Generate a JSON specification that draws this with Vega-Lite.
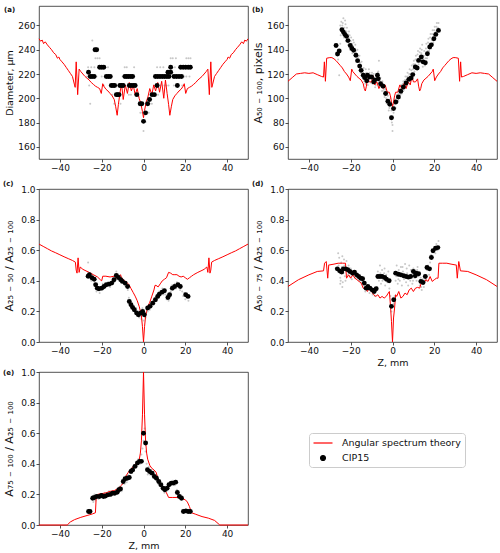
{
  "$schema": "https://vega.github.io/schema/vega-lite/v6.json",
  "background": "white",
  "padding": {"left": 2, "top": 5, "right": 3, "bottom": 2},
  "bounds": "flush",
  "columns": 2,
  "spacing": {"row": 30, "column": 40},
  "config": {
    "font": "DejaVu Sans",
    "view": {"stroke": "#262626", "strokeWidth": 0.8},
    "axis": {"grid": false, "domain": false, "tickColor": "#262626", "tickSize": 3, "tickWidth": 0.8,
      "labelFont": "DejaVu Sans", "labelFontSize": 9, "labelColor": "#111111", "labelPadding": 1,
      "titleFont": "DejaVu Sans", "titleFontSize": 9.5, "titleFontWeight": "normal", "titleColor": "#111111"},
    "axisY": {"minExtent": 22, "maxExtent": 22, "titlePadding": 3},
    "axisX": {"titlePadding": 2},
    "title": {"fontSize": 7, "fontWeight": "bold", "font": "DejaVu Sans", "anchor": "start", "frame": "bounds", "color": "#111111"}
  },
  "datasets": {
    "a_line": [
      {"z":-50,"v":249},{"z":-49.2,"v":247},{"z":-48.5,"v":248},{"z":-47.8,"v":245},{"z":-47,"v":246.5},{"z":-46,"v":244},{"z":-45,"v":242},{"z":-44,"v":240},{"z":-43,"v":237.5},{"z":-42,"v":236},{"z":-41.2,"v":233},{"z":-40.5,"v":234},{"z":-40,"v":232},{"z":-39,"v":230},{"z":-38,"v":228},{"z":-37,"v":225.5},{"z":-36,"v":223},{"z":-35,"v":220.5},{"z":-34,"v":218},{"z":-33,"v":211},{"z":-32.7,"v":209},{"z":-32.2,"v":230},{"z":-31.5,"v":203},{"z":-30.8,"v":224},{"z":-30,"v":222},{"z":-29,"v":220},{"z":-28,"v":218},{"z":-27,"v":216.5},{"z":-26,"v":215},{"z":-25,"v":213},{"z":-24,"v":211.5},{"z":-23,"v":210},{"z":-22,"v":209},{"z":-21,"v":208},{"z":-20.2,"v":204},{"z":-19.5,"v":212},{"z":-19,"v":210},{"z":-18,"v":207.5},{"z":-17,"v":206},{"z":-16,"v":204},{"z":-15,"v":202},{"z":-14,"v":199},{"z":-13.3,"v":193},{"z":-12.6,"v":186},{"z":-12,"v":195},{"z":-11.3,"v":204},{"z":-10.5,"v":212},{"z":-9.7,"v":199},{"z":-8.7,"v":211},{"z":-7.7,"v":204},{"z":-6.8,"v":213},{"z":-5.8,"v":206},{"z":-4.9,"v":211},{"z":-4,"v":203},{"z":-3,"v":208},{"z":-2.1,"v":200},{"z":-1.3,"v":196},{"z":-0.5,"v":189},{"z":0,"v":184},
      {"z":0.5,"v":190},{"z":1.3,"v":197},{"z":2.1,"v":201},{"z":3,"v":208},{"z":4,"v":203},{"z":4.9,"v":211},{"z":5.8,"v":206},{"z":6.8,"v":213},{"z":7.7,"v":205},{"z":8.7,"v":214},{"z":9.7,"v":200},{"z":10.5,"v":215},{"z":11.3,"v":204},{"z":12,"v":195},{"z":12.6,"v":186},{"z":13.3,"v":193},{"z":14,"v":199},{"z":15,"v":202},{"z":16,"v":204},{"z":17,"v":206},{"z":18,"v":207.5},{"z":19,"v":210},{"z":19.5,"v":212},{"z":20.2,"v":204},{"z":21,"v":208},{"z":22,"v":209},{"z":23,"v":210},{"z":24,"v":211.5},{"z":25,"v":213},{"z":26,"v":215},{"z":27,"v":216.5},{"z":28,"v":218},{"z":29,"v":220},{"z":30,"v":222},{"z":30.8,"v":224},{"z":31.5,"v":203},{"z":32.2,"v":230},{"z":32.7,"v":209},{"z":33,"v":211},{"z":34,"v":218},{"z":35,"v":220.5},{"z":36,"v":223},{"z":37,"v":225.5},{"z":38,"v":228},{"z":39,"v":230},{"z":40,"v":232},{"z":40.5,"v":234},{"z":41.2,"v":233},{"z":42,"v":236},{"z":43,"v":237.5},{"z":44,"v":240},{"z":45,"v":242},{"z":46,"v":244},{"z":47,"v":246.5},{"z":47.8,"v":245},{"z":48.5,"v":248},{"z":49.2,"v":247},{"z":50,"v":249}
    ],
    "a_pts": [
      {"z":-26.3,"v":221.5},{"z":-25.5,"v":218},{"z":-24.6,"v":218},{"z":-23.6,"v":218},{"z":-23.2,"v":240},{"z":-22.4,"v":240},{"z":-21,"v":225.5},{"z":-20,"v":225.5},{"z":-19,"v":225.5},{"z":-17.8,"v":218},{"z":-16.8,"v":218},{"z":-15.9,"v":218},{"z":-15.4,"v":210.5},{"z":-14.6,"v":210.5},{"z":-13.8,"v":210.5},{"z":-13,"v":203},{"z":-12.3,"v":203},{"z":-11.7,"v":203},{"z":-11.3,"v":210.5},{"z":-10.5,"v":210.5},{"z":-9.7,"v":210.5},{"z":-8.9,"v":218},{"z":-8,"v":218},{"z":-7.1,"v":218},{"z":-6.1,"v":218},{"z":-5.2,"v":218},{"z":-6.8,"v":210.5},{"z":-5.9,"v":210.5},{"z":-4.9,"v":210.5},{"z":-4,"v":210.5},{"z":-3.2,"v":203},{"z":-1.6,"v":195.5},{"z":-0.8,"v":195.5},{"z":0,"v":181},{"z":1,"v":188},{"z":2,"v":195.5},{"z":2.9,"v":199},{"z":4.1,"v":203},{"z":5.2,"v":203},{"z":6.5,"v":210.5},{"z":5.7,"v":218},{"z":6.8,"v":218},{"z":7.9,"v":218},{"z":9,"v":218},{"z":10.1,"v":218},{"z":11.2,"v":218},{"z":12.2,"v":218},{"z":11.7,"v":221.5},{"z":13,"v":221.5},{"z":13,"v":225.5},{"z":14.6,"v":218},{"z":15.8,"v":218},{"z":17,"v":218},{"z":18.2,"v":218},{"z":16.2,"v":210.5},{"z":17.8,"v":225.5},{"z":19,"v":225.5},{"z":20.2,"v":225.5},{"z":21.4,"v":225.5},{"z":22.4,"v":225.5}
    ],
    "a_gray": [
      {"z":-24.5,"v":247.5},{"z":-23,"v":233},{"z":-22,"v":233},{"z":-21,"v":233},{"z":-26.5,"v":225.5},{"z":-25,"v":225.5},{"z":-17,"v":225.5},{"z":-9,"v":225.5},{"z":-8,"v":225.5},{"z":-4.5,"v":225.5},{"z":6.5,"v":225.5},{"z":8,"v":225.5},{"z":9.5,"v":225.5},{"z":13,"v":233},{"z":14,"v":233},{"z":15.5,"v":233},{"z":20.5,"v":233},{"z":21.5,"v":233},{"z":22.5,"v":233},{"z":-26,"v":210.5},{"z":-25.5,"v":195.5},{"z":-27,"v":218},{"z":-20,"v":218},{"z":-19,"v":210.5},{"z":-16,"v":210.5},{"z":-12,"v":210.5},{"z":-11,"v":195.5},{"z":-14,"v":195.5},{"z":-10,"v":218},{"z":-7,"v":203},{"z":-6,"v":203},{"z":-4,"v":203},{"z":-2.5,"v":203},{"z":-1.5,"v":188},{"z":0,"v":173},{"z":-0.5,"v":188},{"z":1,"v":180.5},{"z":2.5,"v":188},{"z":3,"v":195.5},{"z":4,"v":195.5},{"z":5,"v":210.5},{"z":6,"v":203},{"z":7,"v":203},{"z":8,"v":210.5},{"z":10,"v":210.5},{"z":11,"v":210.5},{"z":12,"v":210.5},{"z":14.5,"v":210.5},{"z":15,"v":225.5},{"z":17,"v":225.5},{"z":18.5,"v":210.5},{"z":19.5,"v":218},{"z":20.5,"v":218},{"z":22,"v":218},{"z":23,"v":225.5},{"z":-22.5,"v":218},{"z":-23.5,"v":225.5},{"z":-18,"v":218},{"z":-13,"v":210.5},{"z":-15,"v":203},{"z":-9,"v":210.5},{"z":-5.5,"v":218}
    ],
    "b_line": [
      {"z":-50,"v":114},{"z":-48,"v":117},{"z":-46,"v":120},{"z":-44,"v":120.5},{"z":-42,"v":121},{"z":-40,"v":120.5},{"z":-38,"v":121},{"z":-36,"v":119.5},{"z":-34,"v":118},{"z":-33,"v":117.5},{"z":-32.6,"v":130},{"z":-32.1,"v":114},{"z":-31.5,"v":133},{"z":-30,"v":133.5},{"z":-29,"v":133.5},{"z":-28,"v":132.5},{"z":-27,"v":131},{"z":-26,"v":129},{"z":-25,"v":127},{"z":-24,"v":125},{"z":-23,"v":122},{"z":-22,"v":120},{"z":-21,"v":117.5},{"z":-20.2,"v":114.5},{"z":-19.5,"v":124},{"z":-19,"v":122},{"z":-18,"v":120},{"z":-17,"v":118},{"z":-16,"v":116.5},{"z":-15,"v":115},{"z":-14,"v":112},{"z":-13.5,"v":108},{"z":-13,"v":106},{"z":-12.5,"v":110},{"z":-12,"v":116},{"z":-11,"v":113.5},{"z":-10,"v":113.5},{"z":-9.3,"v":118.5},{"z":-8.5,"v":111},{"z":-7.5,"v":113.5},{"z":-6.5,"v":108},{"z":-5.5,"v":112},{"z":-4.5,"v":108},{"z":-3.5,"v":111},{"z":-2.5,"v":105},{"z":-1.5,"v":105},{"z":-1,"v":102},{"z":-0.5,"v":97},{"z":0,"v":93},
      {"z":0.5,"v":97},{"z":1,"v":102},{"z":1.5,"v":105},{"z":2.5,"v":105},{"z":3.5,"v":111},{"z":4.5,"v":108},{"z":5.5,"v":112},{"z":6.5,"v":108},{"z":7.5,"v":113.5},{"z":8.5,"v":111},{"z":9.3,"v":118.5},{"z":10,"v":113.5},{"z":11,"v":113.5},{"z":12,"v":116},{"z":12.5,"v":110},{"z":13,"v":106},{"z":13.5,"v":108},{"z":14,"v":112},{"z":15,"v":115},{"z":16,"v":116.5},{"z":17,"v":118},{"z":18,"v":120},{"z":19,"v":122},{"z":19.5,"v":124},{"z":20.2,"v":114.5},{"z":21,"v":117.5},{"z":22,"v":120},{"z":23,"v":122},{"z":24,"v":125},{"z":25,"v":127},{"z":26,"v":129},{"z":27,"v":131},{"z":28,"v":132.5},{"z":29,"v":133.5},{"z":30,"v":133.5},{"z":31.5,"v":133},{"z":32.1,"v":114},{"z":32.6,"v":130},{"z":33,"v":117.5},{"z":34,"v":118},{"z":36,"v":119.5},{"z":38,"v":121},{"z":40,"v":120.5},{"z":42,"v":121},{"z":44,"v":120.5},{"z":46,"v":120},{"z":48,"v":117},{"z":50,"v":114}
    ],
    "b_pts": [
      {"z":-27,"v":143.5},{"z":-26.3,"v":136.5},{"z":-25.5,"v":139},{"z":-24.2,"v":156.5},{"z":-23.5,"v":154.5},{"z":-22.8,"v":152.5},{"z":-22,"v":151},{"z":-21.3,"v":147.5},{"z":-20.2,"v":143.5},{"z":-19.4,"v":141},{"z":-18.6,"v":139.5},{"z":-17.5,"v":135.5},{"z":-16.7,"v":131},{"z":-15.7,"v":126.5},{"z":-15,"v":123},{"z":-14,"v":119},{"z":-13.3,"v":117},{"z":-12.3,"v":114.5},{"z":-12,"v":119},{"z":-11,"v":117.5},{"z":-10,"v":117.5},{"z":-9,"v":113.5},{"z":-8.5,"v":115},{"z":-7.2,"v":119},{"z":-6.8,"v":116},{"z":-5.7,"v":112},{"z":-4.5,"v":110},{"z":-3.3,"v":104},{"z":-2.2,"v":97.5},{"z":-1.3,"v":95},{"z":-0.5,"v":84},{"z":0.5,"v":91.5},{"z":1.6,"v":97},{"z":2.8,"v":101},{"z":4,"v":105.8},{"z":5.2,"v":109.3},{"z":6.5,"v":112.6},{"z":7.8,"v":115.6},{"z":8.9,"v":116.7},{"z":9.7,"v":119.5},{"z":10.9,"v":125.8},{"z":11.8,"v":125},{"z":12.5,"v":131.2},{"z":13.8,"v":134},{"z":14.6,"v":130},{"z":15.7,"v":129.3},{"z":16.7,"v":136.7},{"z":17.8,"v":142.2},{"z":18.6,"v":144},{"z":19.8,"v":149},{"z":20.7,"v":152.6},{"z":22,"v":155.9}
    ],
    "b_gray": [
      {"z":-24.5,"v":163},{"z":-24,"v":160},{"z":-23.5,"v":166},{"z":-23,"v":158},{"z":-22.5,"v":161},{"z":-22,"v":155},{"z":-21.5,"v":153},{"z":-21,"v":150},{"z":-20.5,"v":152},{"z":-20,"v":147},{"z":-19.5,"v":145},{"z":-19,"v":143},{"z":-18.5,"v":146},{"z":-18,"v":140},{"z":-17.5,"v":138},{"z":-17,"v":136},{"z":-16.5,"v":134},{"z":-16,"v":130},{"z":-15.5,"v":129},{"z":-15,"v":126},{"z":-14.5,"v":122},{"z":-14,"v":121},{"z":-13.5,"v":114},{"z":-13,"v":112},{"z":-12.5,"v":121},{"z":-12,"v":115},{"z":-11,"v":121},{"z":-10.5,"v":113},{"z":-10,"v":116},{"z":-9.5,"v":112},{"z":-9,"v":120},{"z":-8,"v":111},{"z":-7.5,"v":118},{"z":-7,"v":121},{"z":-6.5,"v":131},{"z":-6,"v":114},{"z":-5,"v":106},{"z":-4.5,"v":112},{"z":-4,"v":104},{"z":-3.5,"v":108},{"z":-3,"v":100},{"z":-2.5,"v":104},{"z":-2,"v":98},{"z":-1.5,"v":92},{"z":-1,"v":100},{"z":-0.5,"v":90},{"z":0,"v":78},{"z":0,"v":73},{"z":0.5,"v":88},{"z":1,"v":95},{"z":1.5,"v":92},{"z":2,"v":100},{"z":2.5,"v":97},{"z":3,"v":104},{"z":3.5,"v":100},{"z":4,"v":108},{"z":4.5,"v":104},{"z":5,"v":112},{"z":5.5,"v":107},{"z":6,"v":115},{"z":6.5,"v":110},{"z":7,"v":118},{"z":7.5,"v":113},{"z":8,"v":120},{"z":8.5,"v":114},{"z":9,"v":123},{"z":9.5,"v":117},{"z":10,"v":128},{"z":10.5,"v":122},{"z":11,"v":132},{"z":11.5,"v":127},{"z":12,"v":136},{"z":12.5,"v":128},{"z":13,"v":138},{"z":13.5,"v":130},{"z":14,"v":140},{"z":14.5,"v":126},{"z":15,"v":135},{"z":15.5,"v":127},{"z":16,"v":141},{"z":16.5,"v":133},{"z":17,"v":146},{"z":17.5,"v":139},{"z":18,"v":150},{"z":18.5,"v":141},{"z":19,"v":153},{"z":19.5,"v":146},{"z":20,"v":156},{"z":20.5,"v":150},{"z":21,"v":159},{"z":21.5,"v":153},{"z":22,"v":162},{"z":-26,"v":132},{"z":-25.5,"v":119},{"z":-25,"v":145},
      {"z":-25,"v":160},{"z":-24.8,"v":152},{"z":-23.8,"v":162},{"z":-23.2,"v":150},{"z":-22.7,"v":164},{"z":-22.3,"v":147},{"z":-21.8,"v":158},{"z":-21.2,"v":144},{"z":-20.8,"v":155},{"z":-20.3,"v":140},{"z":-19.8,"v":150},{"z":-19.2,"v":137},{"z":-18.8,"v":148},{"z":-18.2,"v":135},{"z":-17.8,"v":144},{"z":-17.2,"v":131},{"z":-16.8,"v":140},{"z":-16.2,"v":127},{"z":-15.8,"v":135},{"z":-15.2,"v":121},{"z":-14.8,"v":130},{"z":-14.2,"v":117},{"z":-13.8,"v":125},{"z":-13.2,"v":120},{"z":-12.8,"v":124},{"z":-11.8,"v":111},{"z":-11.3,"v":124},{"z":-10.8,"v":119},{"z":-9.8,"v":121},{"z":-8.8,"v":117},{"z":-8.3,"v":109},{"z":-7.8,"v":114},{"z":-6.8,"v":122},{"z":-6.3,"v":110},{"z":-5.8,"v":117},{"z":-5.3,"v":109},{"z":-4.8,"v":114},{"z":-4.2,"v":107},{"z":-3.8,"v":101},{"z":-3.2,"v":107},{"z":-2.8,"v":96},{"z":-2.2,"v":102},{"z":-1.8,"v":90},{"z":-1.2,"v":97},{"z":-0.8,"v":85},{"z":-0.3,"v":80},
      {"z":0.3,"v":84},{"z":0.8,"v":93},{"z":1.2,"v":99},{"z":1.8,"v":96},{"z":2.2,"v":103},{"z":2.8,"v":98},{"z":3.2,"v":107},{"z":3.8,"v":103},{"z":4.2,"v":111},{"z":4.8,"v":108},{"z":5.2,"v":114},{"z":5.8,"v":110},{"z":6.2,"v":118},{"z":6.8,"v":115},{"z":7.2,"v":121},{"z":7.8,"v":118},{"z":8.2,"v":124},{"z":8.8,"v":120},{"z":9.2,"v":127},{"z":9.8,"v":124},{"z":10.2,"v":131},{"z":10.8,"v":128},{"z":11.2,"v":135},{"z":11.8,"v":130},{"z":12.2,"v":139},{"z":12.8,"v":134},{"z":13.2,"v":141},{"z":13.8,"v":137},{"z":14.2,"v":144},{"z":14.8,"v":132},{"z":15.2,"v":139},{"z":15.8,"v":133},{"z":16.2,"v":145},{"z":16.8,"v":139},{"z":17.2,"v":149},{"z":17.8,"v":145},{"z":18.2,"v":153},{"z":18.8,"v":148},{"z":19.2,"v":156},{"z":19.8,"v":152},{"z":20.2,"v":159},{"z":20.8,"v":155},{"z":21.2,"v":162},{"z":21.8,"v":158}
    ],
    "c_line": [
      {"z":-50,"v":0.64},{"z":-48,"v":0.625},{"z":-46,"v":0.61},{"z":-44,"v":0.595},{"z":-42,"v":0.583},{"z":-40,"v":0.57},{"z":-38,"v":0.557},{"z":-36,"v":0.545},{"z":-34,"v":0.533},{"z":-32.6,"v":0.522},{"z":-32.2,"v":0.47},{"z":-31.8,"v":0.45},{"z":-31.3,"v":0.55},{"z":-30.8,"v":0.455},{"z":-30.3,"v":0.49},{"z":-29,"v":0.475},{"z":-28,"v":0.468},{"z":-26,"v":0.455},{"z":-24,"v":0.44},{"z":-22,"v":0.425},{"z":-20.5,"v":0.405},{"z":-20,"v":0.4},{"z":-19.5,"v":0.43},{"z":-18,"v":0.43},{"z":-16,"v":0.425},{"z":-14,"v":0.43},{"z":-13,"v":0.42},{"z":-12,"v":0.425},{"z":-11,"v":0.44},{"z":-10.5,"v":0.42},{"z":-10,"v":0.41},{"z":-9,"v":0.4},{"z":-8,"v":0.39},{"z":-7,"v":0.375},{"z":-6,"v":0.35},{"z":-5,"v":0.325},{"z":-4,"v":0.3},{"z":-3,"v":0.27},{"z":-2,"v":0.23},{"z":-1.5,"v":0.2},{"z":-1,"v":0.17},{"z":-0.5,"v":0.1},{"z":0,"v":0},
      {"z":0.5,"v":0.1},{"z":1,"v":0.17},{"z":1.5,"v":0.2},{"z":2,"v":0.23},{"z":3,"v":0.26},{"z":4,"v":0.3},{"z":5,"v":0.34},{"z":5.5,"v":0.37},{"z":6,"v":0.37},{"z":7,"v":0.36},{"z":8,"v":0.38},{"z":9,"v":0.4},{"z":10,"v":0.41},{"z":11,"v":0.42},{"z":12,"v":0.455},{"z":13,"v":0.45},{"z":14,"v":0.44},{"z":15,"v":0.44},{"z":16,"v":0.44},{"z":17,"v":0.43},{"z":18,"v":0.425},{"z":19,"v":0.43},{"z":20,"v":0.42},{"z":21,"v":0.41},{"z":22,"v":0.42},{"z":23,"v":0.43},{"z":24,"v":0.44},{"z":26,"v":0.455},{"z":28,"v":0.468},{"z":29,"v":0.475},{"z":30.3,"v":0.49},{"z":30.8,"v":0.455},{"z":31.3,"v":0.55},{"z":31.8,"v":0.45},{"z":32.2,"v":0.47},{"z":32.6,"v":0.522},{"z":34,"v":0.533},{"z":36,"v":0.545},{"z":38,"v":0.557},{"z":40,"v":0.57},{"z":42,"v":0.583},{"z":44,"v":0.595},{"z":46,"v":0.61},{"z":48,"v":0.625},{"z":50,"v":0.64}
    ],
    "c_pts": [
      {"z":-26.5,"v":0.43},{"z":-25.9,"v":0.44},{"z":-24.7,"v":0.42},{"z":-23.6,"v":0.41},{"z":-22.9,"v":0.374},{"z":-22.1,"v":0.352},{"z":-21.3,"v":0.348},{"z":-20,"v":0.352},{"z":-18.9,"v":0.363},{"z":-17.8,"v":0.374},{"z":-16.5,"v":0.378},{"z":-15.2,"v":0.385},{"z":-14.1,"v":0.407},{"z":-13,"v":0.435},{"z":-12,"v":0.422},{"z":-10.9,"v":0.407},{"z":-10.1,"v":0.396},{"z":-8.8,"v":0.385},{"z":-7.6,"v":0.363},{"z":-6.8,"v":0.265},{"z":-6,"v":0.244},{"z":-5.2,"v":0.226},{"z":-4.4,"v":0.211},{"z":-3.3,"v":0.19},{"z":-2.4,"v":0.178},{"z":-1.2,"v":0.19},{"z":-0.4,"v":0.2},{"z":0.4,"v":0.178},{"z":2,"v":0.222},{"z":3.1,"v":0.233},{"z":4.4,"v":0.254},{"z":5.7,"v":0.276},{"z":6.8,"v":0.298},{"z":7.6,"v":0.313},{"z":8.9,"v":0.326},{"z":10,"v":0.335},{"z":11.7,"v":0.291},{"z":12.5,"v":0.309},{"z":13.8,"v":0.352},{"z":14.9,"v":0.363},{"z":16.5,"v":0.374},{"z":17.6,"v":0.363},{"z":20.2,"v":0.309},{"z":21.3,"v":0.298}
    ],
    "c_gray": [
      {"z":-26.5,"v":0.52},{"z":-26,"v":0.45},{"z":-25.5,"v":0.43},{"z":-25,"v":0.4},{"z":-24.5,"v":0.44},{"z":-24,"v":0.41},{"z":-23.5,"v":0.38},{"z":-23,"v":0.36},{"z":-22.5,"v":0.33},{"z":-22,"v":0.36},{"z":-21.5,"v":0.34},{"z":-21,"v":0.32},{"z":-20,"v":0.34},{"z":-19.5,"v":0.38},{"z":-19,"v":0.35},{"z":-18,"v":0.37},{"z":-17,"v":0.39},{"z":-16,"v":0.36},{"z":-15,"v":0.4},{"z":-14,"v":0.39},{"z":-13.5,"v":0.44},{"z":-13,"v":0.46},{"z":-12.5,"v":0.41},{"z":-12,"v":0.44},{"z":-11,"v":0.42},{"z":-10.5,"v":0.39},{"z":-10,"v":0.41},{"z":-9,"v":0.37},{"z":-8,"v":0.39},{"z":-7.5,"v":0.34},{"z":-7,"v":0.29},{"z":-6.5,"v":0.27},{"z":-6,"v":0.23},{"z":-5.5,"v":0.25},{"z":-5,"v":0.21},{"z":-4,"v":0.2},{"z":-3.5,"v":0.22},{"z":-3,"v":0.17},{"z":-2.5,"v":0.2},{"z":-2,"v":0.16},{"z":-1.5,"v":0.2},{"z":-1,"v":0.15},{"z":-0.5,"v":0.22},{"z":0,"v":0.14},{"z":0.5,"v":0.19},{"z":1,"v":0.16},{"z":1.5,"v":0.22},{"z":2,"v":0.2},{"z":2.5,"v":0.24},{"z":3,"v":0.21},{"z":3.5,"v":0.26},{"z":4,"v":0.23},{"z":4.5,"v":0.27},{"z":5,"v":0.25},{"z":5.5,"v":0.29},{"z":6,"v":0.27},{"z":6.5,"v":0.31},{"z":7,"v":0.29},{"z":7.5,"v":0.33},{"z":8,"v":0.31},{"z":9,"v":0.35},{"z":9.5,"v":0.31},{"z":10,"v":0.34},{"z":10.5,"v":0.31},{"z":11,"v":0.28},{"z":11.5,"v":0.31},{"z":12,"v":0.27},{"z":12.5,"v":0.3},{"z":13,"v":0.33},{"z":13.5,"v":0.37},{"z":14,"v":0.34},{"z":15,"v":0.38},{"z":15.5,"v":0.35},{"z":16,"v":0.39},{"z":16.5,"v":0.36},{"z":17,"v":0.38},{"z":17.5,"v":0.34},{"z":18,"v":0.37},{"z":18.5,"v":0.33},{"z":19,"v":0.3},{"z":19.5,"v":0.32},{"z":20,"v":0.28},{"z":21,"v":0.31},{"z":21.5,"v":0.27},{"z":22,"v":0.3}
    ],
    "d_line": [
      {"z":-50,"v":0.363},{"z":-45,"v":0.407},{"z":-40,"v":0.439},{"z":-36,"v":0.461},{"z":-33,"v":0.465},{"z":-32.5,"v":0.515},{"z":-31.7,"v":0.526},{"z":-31,"v":0.417},{"z":-30.5,"v":0.504},{"z":-30,"v":0.504},{"z":-28,"v":0.509},{"z":-26,"v":0.515},{"z":-24,"v":0.515},{"z":-22.5,"v":0.515},{"z":-22,"v":0.417},{"z":-21,"v":0.439},{"z":-20,"v":0.417},{"z":-19,"v":0.439},{"z":-18,"v":0.417},{"z":-17,"v":0.407},{"z":-16,"v":0.396},{"z":-15,"v":0.385},{"z":-14,"v":0.352},{"z":-13,"v":0.352},{"z":-12,"v":0.33},{"z":-11,"v":0.357},{"z":-10,"v":0.33},{"z":-9,"v":0.309},{"z":-8,"v":0.298},{"z":-7,"v":0.309},{"z":-6,"v":0.287},{"z":-5,"v":0.298},{"z":-4,"v":0.287},{"z":-3,"v":0.298},{"z":-2,"v":0.32},{"z":-1.5,"v":0.33},{"z":-1,"v":0.243},{"z":-0.5,"v":0.135},{"z":0,"v":0},
      {"z":0.5,"v":0.157},{"z":1,"v":0.222},{"z":1.5,"v":0.309},{"z":2,"v":0.298},{"z":3,"v":0.33},{"z":4,"v":0.287},{"z":5,"v":0.298},{"z":6,"v":0.32},{"z":7,"v":0.309},{"z":8,"v":0.341},{"z":9,"v":0.352},{"z":10,"v":0.33},{"z":11,"v":0.352},{"z":12,"v":0.357},{"z":13,"v":0.352},{"z":14,"v":0.396},{"z":15,"v":0.385},{"z":16,"v":0.407},{"z":17,"v":0.396},{"z":18,"v":0.428},{"z":19,"v":0.396},{"z":20,"v":0.407},{"z":21,"v":0.417},{"z":21.8,"v":0.417},{"z":22.2,"v":0.515},{"z":24,"v":0.515},{"z":26,"v":0.515},{"z":28,"v":0.509},{"z":30,"v":0.504},{"z":30.5,"v":0.504},{"z":31,"v":0.417},{"z":31.7,"v":0.526},{"z":32.5,"v":0.465},{"z":36,"v":0.461},{"z":40,"v":0.439},{"z":45,"v":0.407},{"z":50,"v":0.363}
    ],
    "d_pts": [
      {"z":-26.4,"v":0.478},{"z":-25.3,"v":0.465},{"z":-24.3,"v":0.457},{"z":-23.5,"v":0.478},{"z":-22.4,"v":0.478},{"z":-21.4,"v":0.472},{"z":-20.4,"v":0.461},{"z":-19.1,"v":0.45},{"z":-18.2,"v":0.457},{"z":-17.2,"v":0.439},{"z":-16.2,"v":0.428},{"z":-15.2,"v":0.417},{"z":-14.3,"v":0.413},{"z":-13.5,"v":0.385},{"z":-12.6,"v":0.352},{"z":-11.8,"v":0.363},{"z":-10.8,"v":0.352},{"z":-9.8,"v":0.341},{"z":-8.8,"v":0.33},{"z":-7.8,"v":0.348},{"z":-7,"v":0.428},{"z":-6,"v":0.428},{"z":-5,"v":0.428},{"z":-3.7,"v":0.422},{"z":-2.9,"v":0.41},{"z":-1.6,"v":0.4},{"z":-0.5,"v":0.233},{"z":0.6,"v":0.276},{"z":1.5,"v":0.45},{"z":2.8,"v":0.443},{"z":4,"v":0.439},{"z":5.3,"v":0.433},{"z":6.5,"v":0.428},{"z":7.6,"v":0.424},{"z":8.7,"v":0.428},{"z":10,"v":0.461},{"z":10.9,"v":0.433},{"z":11.3,"v":0.45},{"z":12.5,"v":0.446},{"z":13.6,"v":0.396},{"z":14.6,"v":0.389},{"z":15.7,"v":0.428},{"z":16.5,"v":0.487},{"z":17.7,"v":0.478},{"z":18.6,"v":0.552},{"z":19.4,"v":0.596},{"z":20.6,"v":0.613},{"z":21.7,"v":0.617}
    ],
    "d_gray": [
      {"z":-26,"v":0.58},{"z":-25.5,"v":0.55},{"z":-25,"v":0.38},{"z":-25,"v":0.42},{"z":-24.5,"v":0.52},{"z":-24,"v":0.36},{"z":-24,"v":0.56},{"z":-23.5,"v":0.45},{"z":-23,"v":0.5},{"z":-22.5,"v":0.4},{"z":-22,"v":0.53},{"z":-21.5,"v":0.44},{"z":-21,"v":0.5},{"z":-20.5,"v":0.43},{"z":-20,"v":0.48},{"z":-19.5,"v":0.41},{"z":-19,"v":0.46},{"z":-18,"v":0.42},{"z":-17,"v":0.44},{"z":-16,"v":0.4},{"z":-15,"v":0.39},{"z":-14,"v":0.37},{"z":-13.5,"v":0.35},{"z":-13,"v":0.33},{"z":-12,"v":0.34},{"z":-11.5,"v":0.37},{"z":-11,"v":0.32},{"z":-10,"v":0.35},{"z":-9.5,"v":0.31},{"z":-9,"v":0.34},{"z":-8.5,"v":0.3},{"z":-8,"v":0.33},{"z":-7.5,"v":0.36},{"z":-7,"v":0.46},{"z":-6.5,"v":0.4},{"z":-6,"v":0.5},{"z":-5.5,"v":0.38},{"z":-5,"v":0.47},{"z":-4.5,"v":0.41},{"z":-4,"v":0.45},{"z":-3.5,"v":0.37},{"z":-3,"v":0.44},{"z":-2.5,"v":0.39},{"z":-2,"v":0.46},{"z":-1.5,"v":0.35},{"z":-1,"v":0.3},{"z":-0.5,"v":0.2},{"z":0.5,"v":0.25},{"z":1,"v":0.3},{"z":1.5,"v":0.4},{"z":2,"v":0.5},{"z":2.5,"v":0.38},{"z":3,"v":0.47},{"z":3.5,"v":0.4},{"z":4,"v":0.49},{"z":4.5,"v":0.37},{"z":5,"v":0.46},{"z":5.5,"v":0.41},{"z":6,"v":0.51},{"z":6.5,"v":0.39},{"z":7,"v":0.45},{"z":7.5,"v":0.37},{"z":8,"v":0.5},{"z":8.5,"v":0.4},{"z":9,"v":0.44},{"z":9.5,"v":0.38},{"z":10,"v":0.48},{"z":10.5,"v":0.42},{"z":11,"v":0.46},{"z":11.5,"v":0.4},{"z":12,"v":0.49},{"z":12.5,"v":0.43},{"z":13,"v":0.37},{"z":13.5,"v":0.42},{"z":14,"v":0.34},{"z":14.5,"v":0.41},{"z":15,"v":0.36},{"z":15.5,"v":0.44},{"z":16,"v":0.4},{"z":16.5,"v":0.47},{"z":17,"v":0.5},{"z":17.5,"v":0.44},{"z":18,"v":0.52},{"z":18.5,"v":0.57},{"z":19,"v":0.55},{"z":19.5,"v":0.6},{"z":20,"v":0.62},{"z":20.5,"v":0.58},{"z":21,"v":0.64},{"z":21.5,"v":0.6},{"z":22,"v":0.66},
      {"z":-25.8,"v":0.5},{"z":-25.2,"v":0.45},{"z":-24.8,"v":0.4},{"z":-24.2,"v":0.49},{"z":-23.8,"v":0.39},{"z":-23.2,"v":0.54},{"z":-22.8,"v":0.43},{"z":-22.2,"v":0.47},{"z":-6.8,"v":0.44},{"z":-5.8,"v":0.45},{"z":-4.8,"v":0.4},{"z":-3.8,"v":0.48},{"z":1.8,"v":0.43},{"z":2.8,"v":0.41},{"z":3.8,"v":0.45},{"z":4.8,"v":0.49},{"z":5.8,"v":0.44},{"z":6.8,"v":0.48},{"z":7.8,"v":0.42},{"z":8.8,"v":0.47},{"z":9.8,"v":0.4},{"z":10.8,"v":0.44},{"z":11.8,"v":0.47},{"z":12.8,"v":0.4},{"z":13.8,"v":0.36},{"z":14.8,"v":0.38},{"z":15.8,"v":0.41}
    ],
    "e_line": [
      {"z":-50,"v":0,"s":"Angular spectrum theory"},{"z":-36.5,"v":0,"s":"Angular spectrum theory"},{"z":-35,"v":0.02,"s":"Angular spectrum theory"},{"z":-33,"v":0.035,"s":"Angular spectrum theory"},{"z":-30,"v":0.05,"s":"Angular spectrum theory"},{"z":-27,"v":0.062,"s":"Angular spectrum theory"},{"z":-24.5,"v":0.072,"s":"Angular spectrum theory"},{"z":-23,"v":0.08,"s":"Angular spectrum theory"},{"z":-22.6,"v":0.19,"s":"Angular spectrum theory"},{"z":-22,"v":0.2,"s":"Angular spectrum theory"},{"z":-20,"v":0.205,"s":"Angular spectrum theory"},{"z":-18,"v":0.21,"s":"Angular spectrum theory"},{"z":-16,"v":0.22,"s":"Angular spectrum theory"},{"z":-14,"v":0.225,"s":"Angular spectrum theory"},{"z":-12,"v":0.24,"s":"Angular spectrum theory"},{"z":-10.5,"v":0.26,"s":"Angular spectrum theory"},{"z":-10,"v":0.27,"s":"Angular spectrum theory"},{"z":-9,"v":0.3,"s":"Angular spectrum theory"},{"z":-8,"v":0.33,"s":"Angular spectrum theory"},{"z":-7.2,"v":0.345,"s":"Angular spectrum theory"},{"z":-6.5,"v":0.36,"s":"Angular spectrum theory"},{"z":-5,"v":0.38,"s":"Angular spectrum theory"},{"z":-4,"v":0.395,"s":"Angular spectrum theory"},{"z":-3,"v":0.41,"s":"Angular spectrum theory"},{"z":-2,"v":0.43,"s":"Angular spectrum theory"},{"z":-1.5,"v":0.47,"s":"Angular spectrum theory"},{"z":-1,"v":0.55,"s":"Angular spectrum theory"},{"z":-0.5,"v":0.72,"s":"Angular spectrum theory"},{"z":0,"v":1.0,"s":"Angular spectrum theory"},{"z":0.5,"v":0.72,"s":"Angular spectrum theory"},{"z":1,"v":0.55,"s":"Angular spectrum theory"},{"z":1.5,"v":0.47,"s":"Angular spectrum theory"},{"z":2,"v":0.43,"s":"Angular spectrum theory"},{"z":3,"v":0.39,"s":"Angular spectrum theory"},{"z":4,"v":0.37,"s":"Angular spectrum theory"},{"z":5,"v":0.36,"s":"Angular spectrum theory"},{"z":6,"v":0.345,"s":"Angular spectrum theory"},{"z":7,"v":0.3,"s":"Angular spectrum theory"},{"z":8,"v":0.27,"s":"Angular spectrum theory"},{"z":9,"v":0.25,"s":"Angular spectrum theory"},{"z":10,"v":0.23,"s":"Angular spectrum theory"},{"z":11,"v":0.21,"s":"Angular spectrum theory"},{"z":12,"v":0.18,"s":"Angular spectrum theory"},{"z":14,"v":0.18,"s":"Angular spectrum theory"},{"z":16,"v":0.18,"s":"Angular spectrum theory"},{"z":18,"v":0.175,"s":"Angular spectrum theory"},{"z":20,"v":0.165,"s":"Angular spectrum theory"},{"z":21,"v":0.15,"s":"Angular spectrum theory"},{"z":22,"v":0.12,"s":"Angular spectrum theory"},{"z":23,"v":0.08,"s":"Angular spectrum theory"},{"z":25,"v":0.07,"s":"Angular spectrum theory"},{"z":28,"v":0.055,"s":"Angular spectrum theory"},{"z":31,"v":0.045,"s":"Angular spectrum theory"},{"z":34,"v":0.03,"s":"Angular spectrum theory"},{"z":36.5,"v":0,"s":"Angular spectrum theory"},{"z":50,"v":0,"s":"Angular spectrum theory"}
    ],
    "e_pts": [
      {"z":-26.3,"v":0.088,"s":"CIP15"},{"z":-25.6,"v":0.088,"s":"CIP15"},{"z":-24.3,"v":0.175,"s":"CIP15"},{"z":-23.5,"v":0.18,"s":"CIP15"},{"z":-22.4,"v":0.186,"s":"CIP15"},{"z":-21.1,"v":0.186,"s":"CIP15"},{"z":-20.1,"v":0.193,"s":"CIP15"},{"z":-19.1,"v":0.186,"s":"CIP15"},{"z":-18.2,"v":0.19,"s":"CIP15"},{"z":-17,"v":0.197,"s":"CIP15"},{"z":-15.9,"v":0.2,"s":"CIP15"},{"z":-14.9,"v":0.208,"s":"CIP15"},{"z":-13.8,"v":0.208,"s":"CIP15"},{"z":-12.6,"v":0.214,"s":"CIP15"},{"z":-11.8,"v":0.23,"s":"CIP15"},{"z":-11,"v":0.236,"s":"CIP15"},{"z":-9.7,"v":0.284,"s":"CIP15"},{"z":-8.8,"v":0.302,"s":"CIP15"},{"z":-7.8,"v":0.306,"s":"CIP15"},{"z":-6.8,"v":0.31,"s":"CIP15"},{"z":-6,"v":0.35,"s":"CIP15"},{"z":-5.2,"v":0.36,"s":"CIP15"},{"z":-4.1,"v":0.383,"s":"CIP15"},{"z":-2.9,"v":0.405,"s":"CIP15"},{"z":-1.9,"v":0.416,"s":"CIP15"},{"z":-1,"v":0.416,"s":"CIP15"},{"z":0,"v":0.6,"s":"CIP15"},{"z":1,"v":0.536,"s":"CIP15"},{"z":1.9,"v":0.361,"s":"CIP15"},{"z":2.9,"v":0.35,"s":"CIP15"},{"z":4.1,"v":0.339,"s":"CIP15"},{"z":5.2,"v":0.317,"s":"CIP15"},{"z":6.2,"v":0.306,"s":"CIP15"},{"z":7.3,"v":0.284,"s":"CIP15"},{"z":8.3,"v":0.263,"s":"CIP15"},{"z":9.4,"v":0.24,"s":"CIP15"},{"z":10.2,"v":0.23,"s":"CIP15"},{"z":11.3,"v":0.24,"s":"CIP15"},{"z":12.2,"v":0.263,"s":"CIP15"},{"z":13.3,"v":0.274,"s":"CIP15"},{"z":14.3,"v":0.274,"s":"CIP15"},{"z":15.4,"v":0.28,"s":"CIP15"},{"z":16.2,"v":0.212,"s":"CIP15"},{"z":17.2,"v":0.186,"s":"CIP15"},{"z":18.2,"v":0.175,"s":"CIP15"},{"z":19.1,"v":0.088,"s":"CIP15"},{"z":20.3,"v":0.092,"s":"CIP15"},{"z":21.4,"v":0.088,"s":"CIP15"},{"z":22.4,"v":0.088,"s":"CIP15"}
    ],
    "e_gray": [
      {"z":-26,"v":0.1},{"z":-25.5,"v":0.08},{"z":-24.5,"v":0.19},{"z":-24,"v":0.15},{"z":-23.5,"v":0.2},{"z":-23,"v":0.16},{"z":-22,"v":0.19},{"z":-21.5,"v":0.17},{"z":-20.5,"v":0.2},{"z":-19.5,"v":0.18},{"z":-18.5,"v":0.21},{"z":-17.5,"v":0.19},{"z":-16.5,"v":0.22},{"z":-15.5,"v":0.19},{"z":-14.5,"v":0.22},{"z":-13.5,"v":0.2},{"z":-12.5,"v":0.23},{"z":-12,"v":0.21},{"z":-11.5,"v":0.25},{"z":-10.5,"v":0.22},{"z":-10,"v":0.27},{"z":-9.5,"v":0.3},{"z":-9,"v":0.27},{"z":-8.5,"v":0.32},{"z":-8,"v":0.28},{"z":-7.5,"v":0.33},{"z":-7,"v":0.3},{"z":-6.5,"v":0.36},{"z":-5.5,"v":0.34},{"z":-5,"v":0.38},{"z":-4.5,"v":0.36},{"z":-3.5,"v":0.4},{"z":-3,"v":0.38},{"z":-2.5,"v":0.43},{"z":-1.5,"v":0.4},{"z":-1,"v":0.46},{"z":-0.5,"v":0.5},{"z":0,"v":0.55},{"z":0.5,"v":0.63},{"z":1,"v":0.48},{"z":1.5,"v":0.4},{"z":2,"v":0.33},{"z":2.5,"v":0.38},{"z":3,"v":0.33},{"z":3.5,"v":0.36},{"z":4.5,"v":0.32},{"z":5,"v":0.35},{"z":5.5,"v":0.3},{"z":6.5,"v":0.32},{"z":7,"v":0.27},{"z":8,"v":0.29},{"z":8.5,"v":0.25},{"z":9,"v":0.27},{"z":10,"v":0.21},{"z":10.5,"v":0.25},{"z":11,"v":0.22},{"z":12,"v":0.25},{"z":12.5,"v":0.28},{"z":13.5,"v":0.26},{"z":14,"v":0.29},{"z":15,"v":0.26},{"z":15.5,"v":0.29},{"z":16,"v":0.23},{"z":16.5,"v":0.2},{"z":17,"v":0.21},{"z":18,"v":0.17},{"z":18.5,"v":0.19},{"z":19,"v":0.1},{"z":19.5,"v":0.08},{"z":20,"v":0.1},{"z":21,"v":0.08},{"z":22,"v":0.1},{"z":22.5,"v":0.08}
    ]
  },
  "concat": [
    {
      "width": 209, "height": 153,
      "title": {"text": "(a)", "offset": -7},
      "encoding": {
        "x": {"field": "z", "type": "quantitative", "scale": {"domain": [-50, 50], "nice": false, "zero": false}, "axis": {"values": [-40, -20, 0, 20, 40], "title": null}},
        "y": {"field": "v", "type": "quantitative", "scale": {"domain": [150, 276], "nice": false, "zero": false}, "axis": {"values": [160, 180, 200, 220, 240, 260], "title": "Diameter, µm"}}
      },
      "layer": [
        {"data": {"name": "a_gray"}, "mark": {"type": "circle", "size": 4, "color": "#999999", "opacity": 0.55}},
        {"data": {"name": "a_line"}, "mark": {"type": "line", "color": "#ff0000", "strokeWidth": 1}},
        {"data": {"name": "a_pts"}, "mark": {"type": "circle", "size": 24, "color": "#000000", "opacity": 1}}
      ]
    },
    {
      "width": 209, "height": 153,
      "title": {"text": "(b)", "offset": -7},
      "encoding": {
        "x": {"field": "z", "type": "quantitative", "scale": {"domain": [-50, 50], "nice": false, "zero": false}, "axis": {"values": [-40, -20, 0, 20, 40], "title": null}},
        "y": {"field": "v", "type": "quantitative", "scale": {"domain": [50, 176], "nice": false, "zero": false}, "axis": {"values": [60, 80, 100, 120, 140, 160], "title": "A₅₀ ₋ ₁₀₀, pixels", "titleFontSize": 11}}
      },
      "layer": [
        {"data": {"name": "b_gray"}, "mark": {"type": "circle", "size": 4, "color": "#999999", "opacity": 0.55}},
        {"data": {"name": "b_line"}, "mark": {"type": "line", "color": "#ff0000", "strokeWidth": 1}},
        {"data": {"name": "b_pts"}, "mark": {"type": "circle", "size": 24, "color": "#000000", "opacity": 1}}
      ]
    },
    {
      "width": 209, "height": 153,
      "title": {"text": "(c)", "offset": -1.5},
      "encoding": {
        "x": {"field": "z", "type": "quantitative", "scale": {"domain": [-50, 50], "nice": false, "zero": false}, "axis": {"values": [-40, -20, 0, 20, 40], "title": null}},
        "y": {"field": "v", "type": "quantitative", "scale": {"domain": [0, 1], "nice": false}, "axis": {"values": [0, 0.2, 0.4, 0.6, 0.8, 1.0], "format": ".1f", "title": "A₂₅ ₋ ₅₀ / A₂₅ ₋ ₁₀₀", "titleFontSize": 11}}
      },
      "layer": [
        {"data": {"name": "c_gray"}, "mark": {"type": "circle", "size": 4, "color": "#999999", "opacity": 0.55}},
        {"data": {"name": "c_line"}, "mark": {"type": "line", "color": "#ff0000", "strokeWidth": 1}},
        {"data": {"name": "c_pts"}, "mark": {"type": "circle", "size": 24, "color": "#000000", "opacity": 1}}
      ]
    },
    {
      "width": 209, "height": 153,
      "title": {"text": "(d)", "offset": -1.5},
      "encoding": {
        "x": {"field": "z", "type": "quantitative", "scale": {"domain": [-50, 50], "nice": false, "zero": false}, "axis": {"values": [-40, -20, 0, 20, 40], "title": "Z, mm"}},
        "y": {"field": "v", "type": "quantitative", "scale": {"domain": [0, 1], "nice": false}, "axis": {"values": [0, 0.2, 0.4, 0.6, 0.8, 1.0], "format": ".1f", "title": "A₅₀ ₋ ₇₅ / A₂₅ ₋ ₁₀₀", "titleFontSize": 11}}
      },
      "layer": [
        {"data": {"name": "d_gray"}, "mark": {"type": "circle", "size": 4, "color": "#999999", "opacity": 0.55}},
        {"data": {"name": "d_line"}, "mark": {"type": "line", "color": "#ff0000", "strokeWidth": 1}},
        {"data": {"name": "d_pts"}, "mark": {"type": "circle", "size": 24, "color": "#000000", "opacity": 1}}
      ]
    },
    {
      "width": 209, "height": 153,
      "title": {"text": "(e)", "offset": -7.5},
      "encoding": {
        "x": {"field": "z", "type": "quantitative", "scale": {"domain": [-50, 50], "nice": false, "zero": false}, "axis": {"values": [-40, -20, 0, 20, 40], "title": "Z, mm"}},
        "y": {"field": "v", "type": "quantitative", "scale": {"domain": [0, 1], "nice": false}, "axis": {"values": [0, 0.2, 0.4, 0.6, 0.8, 1.0], "format": ".1f", "title": "A₇₅ ₋ ₁₀₀ / A₂₅ ₋ ₁₀₀", "titleFontSize": 11}},
        "color": {"field": "s", "type": "nominal",
          "scale": {"domain": ["Angular spectrum theory", "CIP15"], "range": ["#ff0000", "#000000"]},
          "legend": {"title": null, "orient": "none", "legendX": 270, "legendY": 427, "direction": "vertical",
            "strokeColor": "#cccccc", "fillColor": "white", "cornerRadius": 3, "padding": 4, "symbolOffset": 4,
            "labelFont": "DejaVu Sans", "labelFontSize": 9.5, "labelColor": "#111111", "symbolSize": 100, "rowPadding": 4, "labelOffset": 13,
            "encode": {"symbols": {"update": {
              "shape": {"signal": "datum.value === 'CIP15' ? 'circle' : 'M-1.9,0H1.9'"},
              "size": {"signal": "datum.value === 'CIP15' ? 24 : 100"},
              "fill": {"signal": "datum.value === 'CIP15' ? '#000000' : 'transparent'"},
              "stroke": {"signal": "datum.value === 'CIP15' ? 'transparent' : '#ff0000'"},
              "strokeWidth": {"value": 1.2},
              "opacity": {"value": 1}
            }}}}
        }
      },
      "layer": [
        {"data": {"name": "e_gray"}, "mark": {"type": "circle", "size": 4, "opacity": 0.55}, "encoding": {"color": {"value": "#999999"}}},
        {"data": {"name": "e_line"}, "mark": {"type": "line", "strokeWidth": 1}},
        {"data": {"name": "e_pts"}, "mark": {"type": "circle", "size": 24, "opacity": 1}}
      ]
    }
  ]
}
